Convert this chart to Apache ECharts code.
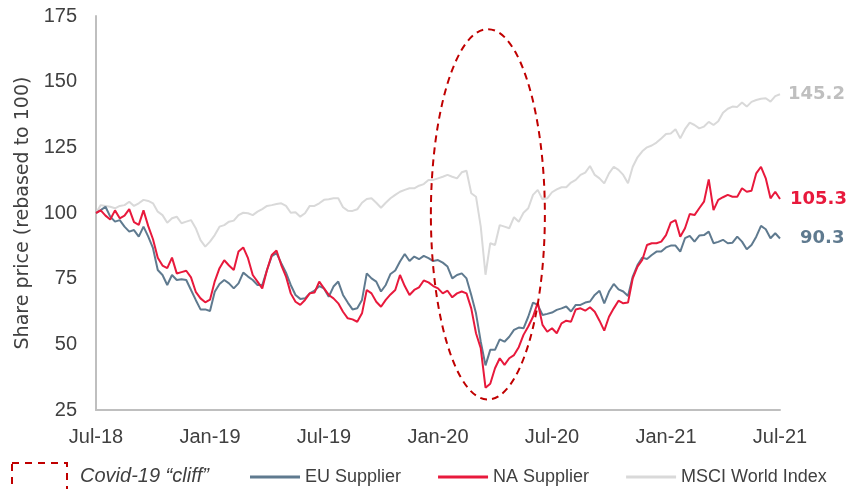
<!DOCTYPE html>
<html>
<head>
<meta charset="utf-8">
<script src="https://cdn.jsdelivr.net/npm/echarts@6/dist/echarts.min.js"></script>
<style>
  html, body { margin: 0; padding: 0; background: #ffffff; }
  #chart { width: 846px; height: 489px; }
</style>
</head>
<body>
<div id="chart"></div>
<script>
// Weekly-ish sampling: four points per month, Jul-18 through Jul-21
const MONTH_NAMES = ['Jan','Feb','Mar','Apr','May','Jun','Jul','Aug','Sep','Oct','Nov','Dec'];
const START_YEAR = 2018;
const START_MONTH = 6;          // July
const POINTS_PER_MONTH = 4;

// Share prices rebased to 100
const euSupplier = [
  100, 101.1, 102.4, 98.6, 96.7, 97.3, 94.8, 92.9, 93.5, 91.0, 94.8, 91.0,
  86.6, 78.3, 76.4, 72.6, 76.4, 74.5, 74.8, 74.5, 70.7, 66.9, 63.3, 63.3,
  62.7, 70.0, 73.0, 74.5, 73.2, 71.3, 73.2, 77.3, 75.8, 74.5, 72.6, 72.6,
  78.3, 83.6, 84.7, 80.9, 77.3, 72.6, 68.8, 67.3, 67.5, 69.4, 70.4, 72.2,
  71.3, 68.1, 72.0, 73.9, 68.8, 65.9, 63.3, 63.7, 66.9, 77.0, 75.1, 73.9,
  70.1, 72.6, 76.8, 78.1, 81.5, 84.4, 81.7, 83.4, 82.4, 83.7, 82.8, 81.7,
  82.1, 81.1, 79.6, 75.1, 76.4, 77.0, 75.1, 68.8, 61.8, 51.0, 42.0, 47.9,
  47.9, 51.9, 51.0, 52.9, 55.5, 56.4, 56.1, 60.5, 65.9, 65.0, 61.2, 61.6,
  62.1, 63.1, 63.7, 64.4, 62.5, 65.0, 65.0, 65.9, 66.3, 68.8, 70.4, 65.6,
  70.1, 73.0, 70.9, 70.1, 68.4, 75.8, 80.2, 83.0, 82.5, 84.0, 85.3, 85.3,
  86.9, 87.6, 87.6, 85.3, 90.4, 91.3, 89.1, 91.4, 91.6, 92.9, 88.5, 89.0,
  89.8, 88.5, 88.7, 91.0, 89.1, 86.2, 87.8, 91.0, 95.1, 93.8, 90.4, 92.3,
  90.3
];

const naSupplier = [
  100, 101.0, 99.0, 97.5, 101.0, 98.0, 99.0, 101.5, 96.5, 95.5, 101.0, 95.0,
  90.0, 83.0, 80.0, 79.0, 83.0, 77.0, 77.5, 78.0, 75.5, 70.0, 67.5, 66.0,
  67.0, 74.0, 79.0, 82.0, 80.0, 78.3, 85.3, 86.9, 82.8, 76.4, 73.9, 71.3,
  78.3, 84.0, 85.7, 80.2, 75.8, 69.4, 66.2, 65.0, 66.9, 69.4, 69.7, 73.9,
  71.3, 68.8, 67.5, 65.6, 62.4, 59.9, 59.5, 58.6, 61.8, 70.7, 69.4, 66.2,
  64.3, 66.9, 69.0, 70.7, 76.4, 72.2, 68.8, 70.7, 71.7, 74.3, 73.6, 72.2,
  71.3, 69.4, 70.4, 67.9, 69.4, 70.1, 69.4, 63.7, 54.2, 48.5, 33.5, 35.0,
  40.9, 44.7, 42.2, 44.7, 45.9, 48.9, 53.6, 56.8, 60.5, 65.9, 57.4, 54.8,
  56.1, 54.2, 58.0, 59.0, 58.6, 63.3, 63.7, 62.8, 64.1, 62.4, 59.0, 55.2,
  60.5, 63.7, 66.6, 65.6, 65.9, 75.1, 79.6, 82.1, 87.8, 88.5, 88.5, 89.1,
  91.6, 96.3, 97.3, 91.0, 94.2, 99.6, 99.2, 101.8, 104.3, 112.8, 101.1, 105.0,
  106.0, 106.9, 106.2, 106.2, 109.4, 108.1, 108.5, 115.1, 117.6, 113.2, 105.6, 108.1,
  105.3
];

const msciWorld = [
  100, 103.0, 102.7, 102.4, 101.8, 102.7, 103.0, 104.3, 102.7, 103.7, 105.0, 104.6,
  103.7, 100.5, 99.2, 96.3, 98.0, 98.6, 96.1, 96.7, 97.3, 94.2, 89.7, 87.2,
  89.1, 91.6, 94.8, 95.4, 96.7, 97.1, 99.2, 100.1, 99.9, 99.2, 100.5, 101.5,
  102.7, 103.0, 103.4, 103.7, 102.7, 100.1, 100.3, 98.6, 99.9, 102.7, 102.7, 103.7,
  105.0, 105.2, 105.6, 105.6, 102.2, 100.9, 100.8, 101.4, 103.9, 105.3, 105.6, 103.9,
  102.0, 103.9, 105.6, 106.9, 108.1, 108.8, 109.4, 109.4, 110.4, 111.0, 112.6, 112.6,
  113.2, 113.8, 114.5, 113.8, 113.2, 115.5, 116.1, 107.5, 106.2, 94.8, 76.5, 88.5,
  87.8, 95.4, 94.8, 94.2, 98.4, 96.7, 100.1, 101.8, 106.9, 108.8, 105.2, 105.6,
  107.9, 109.0, 109.8, 109.8, 111.6, 112.6, 114.5, 115.4, 117.9, 114.5, 113.2, 111.3,
  115.1, 117.6, 116.4, 114.5, 111.3, 117.6, 121.2, 123.5, 125.0, 125.7, 126.8, 128.4,
  130.1, 130.3, 131.9, 128.4, 131.9, 134.4, 133.5, 132.2, 132.9, 134.7, 133.5, 134.9,
  138.2, 139.7, 140.5, 140.4, 142.1, 140.5, 142.3, 143.0, 143.5, 143.7, 142.4, 144.5,
  145.2
];

// Value axis ticks
const yMin = 25, yMax = 175, yStep = 25;

// Covid-19 "cliff" window: sample-index span and value span of the ring
const cliffIndexSpan = [70.5, 94.5];
const cliffValueSpan = [29, 170];

(function () {
  // Category labels, one per sample ("Mon-YY" plus a week tag)
  const categories = euSupplier.map((_, k) => {
    const m = START_MONTH + Math.floor(k / POINTS_PER_MONTH);
    const yy = String(START_YEAR + Math.floor(m / 12)).slice(2);
    const w = k % POINTS_PER_MONTH;
    return MONTH_NAMES[m % 12] + '-' + yy + (w ? ' w' + (w + 1) : '');
  });

  const COLORS = {
    eu: '#5f7a8f',
    na: '#e8193c',
    msci: '#d9d9d9',
    msciLabel: '#bfbfbf',
    axis: '#bfbfbf',
    text: '#404040',
    cliff: '#c00000'
  };
  const FONT = '"Liberation Sans", Arial, sans-serif';

  const chart = echarts.init(document.getElementById('chart'), null, { renderer: 'canvas' });

  function lineSeries(name, data, color, labelColor, labelGap) {
    return {
      name, type: 'line', data,
      symbol: 'none', smooth: false,
      lineStyle: { color, width: 2 },
      itemStyle: { color },
      endLabel: {
        show: true,
        distance: labelGap,
        formatter: p => Number(p.value).toFixed(1),
        color: labelColor,
        fontFamily: '"DejaVu Sans", Verdana, sans-serif',
        fontWeight: 'bold',
        fontSize: 18
      },
      emphasis: { disabled: true },
      animation: false
    };
  }

  chart.setOption({
    backgroundColor: '#ffffff',
    animation: false,
    grid: { left: 96, right: 66, top: 16, bottom: 79 },
    xAxis: {
      type: 'category',
      data: categories,
      boundaryGap: false,
      axisLine: { lineStyle: { color: COLORS.axis, width: 2 } },
      axisTick: { show: false },
      splitLine: { show: false },
      axisLabel: {
        interval: POINTS_PER_MONTH * 6 - 1,
        formatter: v => v.split(' ')[0],
        color: COLORS.text,
        fontFamily: FONT,
        fontSize: 20,
        margin: 17
      }
    },
    yAxis: {
      type: 'value',
      min: yMin, max: yMax, interval: yStep,
      axisLine: { show: true, lineStyle: { color: COLORS.axis, width: 2 } },
      axisTick: { show: false },
      splitLine: { show: false },
      axisLabel: { color: COLORS.text, fontFamily: FONT, fontSize: 20, margin: 19 },
      name: 'Share price (rebased to 100)',
      nameLocation: 'middle',
      nameGap: 54,
      nameTextStyle: { color: COLORS.text, fontFamily: '"DejaVu Sans", Verdana, sans-serif', fontSize: 19 }
    },
    legend: {
      data: ['EU Supplier', 'NA Supplier', 'MSCI World Index'],
      left: 245, top: 463,
      icon: 'rect',
      itemWidth: 50, itemHeight: 3,
      itemGap: 37,
      selectedMode: false,
      textStyle: { color: COLORS.text, fontFamily: FONT, fontSize: 18 }
    },
    series: [
      lineSeries('MSCI World Index', msciWorld, COLORS.msci, COLORS.msciLabel, 8),
      lineSeries('EU Supplier', euSupplier, COLORS.eu, COLORS.eu, 20),
      lineSeries('NA Supplier', naSupplier, COLORS.na, COLORS.na, 10)
    ]
  });

  // Pixel x for a fractional sample index (category axis works on whole indices)
  function xAt(idx) {
    const i0 = Math.floor(idx);
    const p0 = chart.convertToPixel({ xAxisIndex: 0 }, i0);
    const p1 = chart.convertToPixel({ xAxisIndex: 0 }, i0 + 1);
    return p0 + (idx - i0) * (p1 - p0);
  }
  function yAt(v) { return chart.convertToPixel({ yAxisIndex: 0 }, v); }

  const ringLeft = xAt(cliffIndexSpan[0]);
  const ringRight = xAt(cliffIndexSpan[1]);
  const ringTop = yAt(cliffValueSpan[1]);
  const ringBottom = yAt(cliffValueSpan[0]);

  chart.setOption({
    graphic: [
      {
        type: 'ellipse', z: 100, silent: true,
        shape: {
          cx: (ringLeft + ringRight) / 2, cy: (ringTop + ringBottom) / 2,
          rx: (ringRight - ringLeft) / 2, ry: (ringBottom - ringTop) / 2
        },
        style: { fill: 'none', stroke: COLORS.cliff, lineWidth: 2, lineDash: [7, 5] }
      },
      {
        type: 'rect', z: 100, silent: true,
        shape: { x: 12, y: 463, width: 55, height: 40 },
        style: { fill: 'none', stroke: COLORS.cliff, lineWidth: 2, lineDash: [7, 6] }
      },
      {
        type: 'text', z: 100, silent: true,
        style: {
          text: 'Covid-19 \u201Ccliff\u201D', x: 80, y: 476,
          verticalAlign: 'middle',
          fill: COLORS.text,
          font: 'italic 20px "Liberation Sans", Arial, sans-serif'
        }
      }
    ]
  });
})();
</script>
</body>
</html>
